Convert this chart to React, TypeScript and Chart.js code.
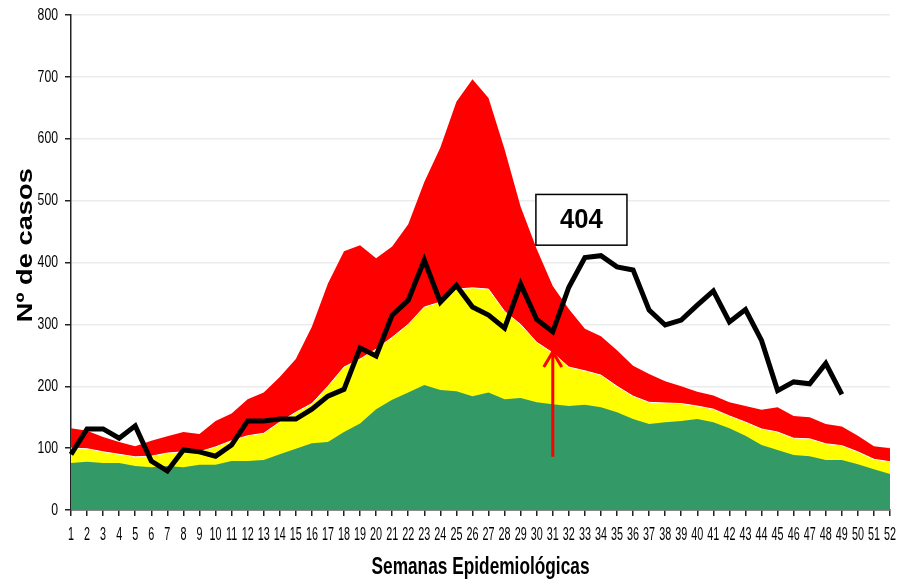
import React, { useEffect, useRef } from "react";
import { Chart, registerables } from "chart.js";

Chart.register(...registerables);

const weeks: string[] = Array.from({ length: 52 }, (_, i) => String(i + 1));
const yTickValues: number[] = [0, 100, 200, 300, 400, 500, 600, 700, 800];

const redTop: number[] = [
  132, 128, 118, 110, 103, 112, 119, 126, 123, 144,
  156, 179, 190, 215, 244, 296, 366, 418, 428, 407,
  426, 462, 530, 586, 660, 696, 666, 583, 490, 422,
  362, 325, 293, 281, 258, 233, 220, 208, 200, 191,
  185, 174, 168, 162, 166, 152, 150, 139, 135, 120,
  103, 100,
];

const yellowTop: number[] = [
  100, 99, 94, 90, 86, 87, 92, 94, 94, 102,
  112, 120, 124, 142, 158, 172, 200, 231, 244, 260,
  279, 300, 328, 336, 357, 359, 357, 321, 300, 271,
  254, 231, 225, 218, 200, 184, 174, 173, 172, 168,
  163, 152, 142, 131, 126, 116, 115, 107, 104, 94,
  82, 78,
];

const greenTop: number[] = [
  76, 78, 76, 76, 71, 69, 71, 69, 73, 73,
  79, 79, 81, 90, 99, 108, 110, 126, 140, 163,
  178, 190, 202, 194, 192, 184, 190, 179, 181, 174,
  171, 168, 170, 166, 158, 147, 139, 142, 144, 147,
  142, 132, 120, 105, 97, 89, 87, 81, 81, 74,
  66, 58,
];

const currentYear: (number | null)[] = [
  90, 131, 131, 116, 136, 79, 63, 97, 94, 87,
  105, 144, 144, 147, 147, 163, 184, 195, 262, 249,
  315, 339, 404, 336, 363, 328, 315, 294, 365, 308,
  288, 360, 408, 411, 393, 388, 323, 299, 307, 331,
  354, 304, 324, 274, 193, 207, 204, 237, 187,
];

const xTitle = "Semanas Epidemiológicas";
const yTitle = "Nº de casos";
const annotationText = "404";
const boxFromIndex = 28.95;
const boxToIndex = 34.62;
const boxTopValue = 510;
const boxBottomValue = 428;
const arrowIndex = 30;
const arrowFromValue = 86;
const arrowToValue = 257;

const FONT = "'Liberation Sans', Arial, sans-serif";

function drawScaledText(ctx: any, text: string, x: number, y: number, sx: number, sy: number, align: string) {
  ctx.save();
  ctx.translate(x, y);
  ctx.scale(sx, sy);
  ctx.textAlign = align;
  ctx.textBaseline = "middle";
  ctx.fillText(text, 0, 0);
  ctx.restore();
}

const labelsPlugin = {
  id: "labelsNarrow",
  afterDraw(chart: any) {
    const { ctx, scales, chartArea } = chart;
    const x = scales.x;
    const y = scales.y;
    ctx.save();
    ctx.fillStyle = "#000000";
    // y tick labels
    ctx.font = `17px ${FONT}`;
    yTickValues.forEach((v) => {
      drawScaledText(ctx, String(v), chartArea.left - 13, y.getPixelForValue(v), 0.72, 1, "right");
    });
    // x tick labels
    ctx.font = `18px ${FONT}`;
    weeks.forEach((w, i) => {
      drawScaledText(ctx, w, x.getPixelForValue(i), chartArea.bottom + 25, 0.6, 1, "center");
    });
    // x title
    ctx.font = `bold 24px ${FONT}`;
    drawScaledText(ctx, xTitle, (chartArea.left + chartArea.right) / 2, chartArea.bottom + 57, 0.72, 1, "center");
    // y title (rotated)
    ctx.save();
    ctx.font = `bold 22px ${FONT}`;
    ctx.translate(26, y.getPixelForValue(428));
    ctx.rotate(-Math.PI / 2);
    ctx.scale(1.24, 1);
    ctx.textAlign = "center";
    ctx.textBaseline = "middle";
    ctx.fillText(yTitle, 0, 0);
    ctx.restore();
    ctx.restore();
  },
};

const annotationPlugin = {
  id: "annot",
  afterDatasetsDraw(chart: any) {
    const { ctx, scales } = chart;
    const x = scales.x;
    const y = scales.y;
    ctx.save();
    // arrow
    const ax = x.getPixelForValue(arrowIndex);
    const ay0 = y.getPixelForValue(arrowFromValue);
    const ay1 = y.getPixelForValue(arrowToValue);
    ctx.strokeStyle = "#ff0000";
    ctx.lineWidth = 3;
    ctx.lineCap = "butt";
    ctx.beginPath();
    ctx.moveTo(ax, ay0);
    ctx.lineTo(ax, ay1);
    ctx.stroke();
    ctx.beginPath();
    ctx.moveTo(ax - 9, ay1 + 16);
    ctx.lineTo(ax, ay1 + 1);
    ctx.lineTo(ax + 9, ay1 + 16);
    ctx.stroke();
    // box
    const bx0 = x.getPixelForValue(boxFromIndex);
    const bx1 = x.getPixelForValue(boxToIndex);
    const by0 = y.getPixelForValue(boxTopValue);
    const by1 = y.getPixelForValue(boxBottomValue);
    ctx.fillStyle = "#ffffff";
    ctx.fillRect(bx0, by0, bx1 - bx0, by1 - by0);
    ctx.strokeStyle = "#000000";
    ctx.lineWidth = 1.5;
    ctx.strokeRect(bx0, by0, bx1 - bx0, by1 - by0);
    ctx.fillStyle = "#000000";
    ctx.font = `bold 27px ${FONT}`;
    drawScaledText(ctx, annotationText, (bx0 + bx1) / 2, (by0 + by1) / 2 + 1, 0.95, 1, "center");
    ctx.restore();
  },
};

export default function App() {
  const ref = useRef<HTMLCanvasElement | null>(null);
  useEffect(() => {
    if (!ref.current) return;
    const chart = new Chart(ref.current, {
      type: "line",
      data: {
        labels: weeks,
        datasets: [
          {
            label: "Actual",
            data: currentYear,
            borderColor: "#000000",
            borderWidth: 5,
            pointRadius: 0,
            tension: 0,
            fill: false,
            borderJoinStyle: "miter",
          },
          {
            label: "Seguridad",
            data: greenTop,
            backgroundColor: "#339966",
            borderWidth: 0,
            pointRadius: 0,
            tension: 0,
            fill: "origin",
          },
          {
            label: "Alerta",
            data: yellowTop,
            backgroundColor: "#ffff00",
            borderColor: "#ffffff",
            borderWidth: 1,
            pointRadius: 0,
            tension: 0,
            fill: "origin",
          },
          {
            label: "Epidemia",
            data: redTop,
            backgroundColor: "#ff0000",
            borderWidth: 0,
            pointRadius: 0,
            tension: 0,
            fill: "origin",
          },
        ],
      },
      options: {
        animation: false,
        responsive: true,
        maintainAspectRatio: false,
        layout: { padding: { top: 15, right: 18, left: 65, bottom: 66 } },
        plugins: {
          legend: { display: false },
          tooltip: { enabled: false },
        },
        scales: {
          x: {
            type: "category",
            offset: false,
            grid: {
              drawOnChartArea: false,
              drawTicks: true,
              tickLength: 6,
              tickColor: "#222222",
              lineWidth: 1.5,
            },
            border: { color: "#222222", width: 1.5 },
            ticks: { display: false, autoSkip: false },
          },
          y: {
            min: 0,
            max: 800,
            ticks: { display: false, stepSize: 100 },
            grid: {
              color: "#ececec",
              lineWidth: 1.5,
              tickLength: 6,
              tickColor: "#222222",
            },
            border: { color: "#222222", width: 1.5 },
          },
        },
      },
      plugins: [annotationPlugin, labelsPlugin],
    });
    return () => chart.destroy();
  }, []);
  return (
    <div style={{ position: "fixed", left: 0, top: 0, width: 908, height: 582, background: "#ffffff" }}>
      <canvas ref={ref} />
    </div>
  );
}
